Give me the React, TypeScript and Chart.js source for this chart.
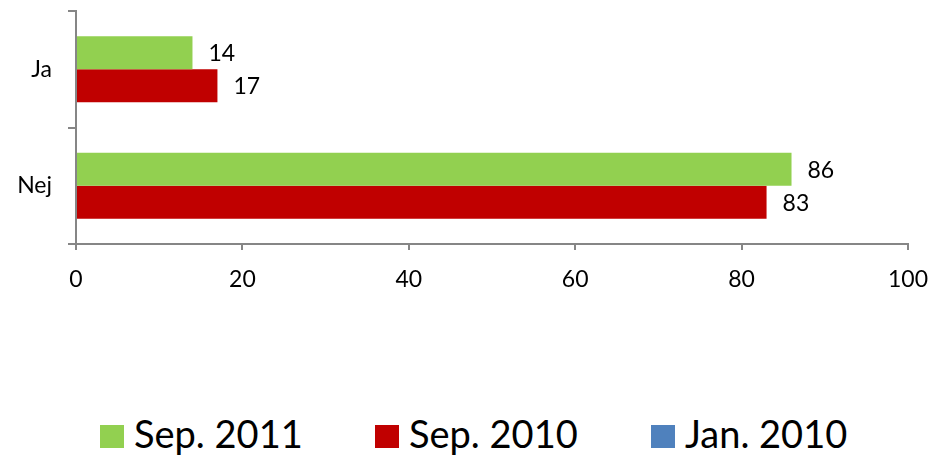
import React, { useEffect, useRef } from "react";
import { Chart, registerables } from "chart.js";

Chart.register(...registerables);

const categories = ["Ja", "Nej"];
const seriesNames = ["Sep. 2011", "Sep. 2010", "Jan. 2010"];
const seriesColors = ["#92D050", "#C00000", "#4F81BD"];
const sep2011 = [14, 86];
const sep2010 = [17, 83];
const jan2010: number[] = [];
const xTicks = [0, 20, 40, 60, 80, 100];

const FONT = "Lato, 'Open Sans', sans-serif";
const AXIS_COLOR = "#868686";

const valueLabels = {
  id: "valueLabels",
  afterDatasetsDraw(chart: any) {
    const ctx = chart.ctx;
    ctx.save();
    ctx.font = `23px ${FONT}`;
    ctx.fillStyle = "#000000";
    ctx.textAlign = "left";
    ctx.textBaseline = "middle";
    chart.data.datasets.forEach((ds: any, i: number) => {
      const meta = chart.getDatasetMeta(i);
      meta.data.forEach((bar: any, j: number) => {
        const v = ds.data[j];
        if (v == null) return;
        ctx.fillText(String(v), bar.x + 16, bar.y + 1);
      });
    });
    ctx.restore();
  },
};

export default function App() {
  const ref = useRef<HTMLCanvasElement | null>(null);

  useEffect(() => {
    if (!ref.current) return;
    const chart = new Chart(ref.current, {
      type: "bar",
      data: {
        labels: categories,
        datasets: [
          { label: seriesNames[0], data: sep2011, backgroundColor: seriesColors[0] },
          { label: seriesNames[1], data: sep2010, backgroundColor: seriesColors[1] },
        ],
      },
      options: {
        indexAxis: "y",
        animation: false,
        responsive: false,
        maintainAspectRatio: false,
        layout: { padding: { left: 0, right: 24, top: 11, bottom: 0 } },
        datasets: { bar: { categoryPercentage: 0.566, barPercentage: 1 } },
        plugins: { legend: { display: false }, tooltip: { enabled: false } },
        scales: {
          x: {
            min: 0,
            max: 100,
            afterBuildTicks: (s: any) => {
              s.ticks = xTicks.map((v) => ({ value: v }));
            },
            afterFit: (s: any) => {
              s.height = 56;
              s.paddingLeft = 0;
              s.paddingRight = 0;
            },
            grid: {
              drawOnChartArea: false,
              drawTicks: true,
              tickLength: 6,
              color: AXIS_COLOR,
              lineWidth: 2,
            },
            border: { display: true, color: AXIS_COLOR, width: 2 },
            ticks: {
              font: { family: FONT, size: 23 },
              color: "#000000",
              padding: 16,
              maxRotation: 0,
            },
          },
          y: {
            afterFit: (s: any) => {
              s.width = 76;
              s.paddingTop = 0;
              s.paddingBottom = 0;
            },
            grid: {
              drawOnChartArea: false,
              drawTicks: true,
              tickLength: 8,
              color: AXIS_COLOR,
              lineWidth: 2,
            },
            border: { display: true, color: AXIS_COLOR, width: 2 },
            ticks: {
              font: { family: FONT, size: 23 },
              color: "#000000",
              padding: 16,
            },
          },
        },
      },
      plugins: [valueLabels],
    });
    return () => chart.destroy();
  }, []);

  const legendX = [100, 375, 651];
  const legendData = [sep2011, sep2010, jan2010];

  return (
    <div style={{ position: "absolute", left: 0, top: 0, width: 932, height: 456, background: "#fff" }}>
      <canvas ref={ref} width={932} height={300} style={{ position: "absolute", left: 0, top: 0 }} />
      {seriesNames.map((name, i) => (
        <div key={name} data-series-size={legendData[i].length}>
          <div
            style={{
              position: "absolute",
              left: legendX[i],
              top: 425,
              width: 24,
              height: 23,
              background: seriesColors[i],
            }}
          />
          <div
            style={{
              position: "absolute",
              left: legendX[i] + 34,
              top: 411,
              fontFamily: FONT,
              fontSize: 38,
              lineHeight: "44px",
              color: "#000",
              whiteSpace: "nowrap",
            }}
          >
            {name}
          </div>
        </div>
      ))}
    </div>
  );
}
